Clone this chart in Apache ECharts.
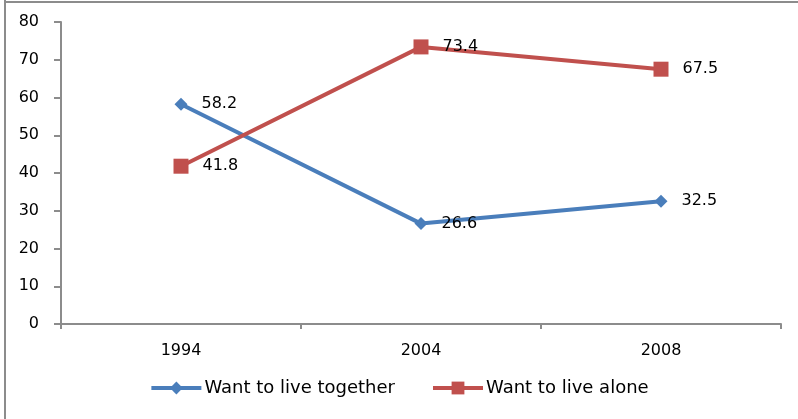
<!DOCTYPE html>
<html><head><meta charset="utf-8">
<script src="https://cdn.jsdelivr.net/npm/echarts@6/dist/echarts.min.js"></script>
<style>html,body{margin:0;padding:0;background:#fff}#c{width:798px;height:419px}</style>
</head><body><div id="c"></div>
<script>
const categories = ['1994', '2004', '2008'];
const together = [58.2, 26.6, 32.5];
const alone = [41.8, 73.4, 67.5];
const yTicks = {min: 0, max: 80, interval: 10};

const chart = echarts.init(document.getElementById('c'));
const font = '"DejaVu Sans", sans-serif';
const fs = 16;
const axisColor = '#8c8c8c';
chart.setOption({
  animation: false,
  textStyle: {fontFamily: font},
  graphic: [
    {type: 'line', shape: {x1: 5, y1: 0, x2: 5, y2: 419}, style: {stroke: '#8c8c8c', lineWidth: 2}},
    {type: 'line', shape: {x1: 4, y1: 2, x2: 798, y2: 2}, style: {stroke: '#8c8c8c', lineWidth: 2}}
  ],
  grid: {left: 61, right: 17, top: 22, bottom: 95, containLabel: false},
  legend: {
    bottom: 17, left: 'center', itemGap: 36, itemWidth: 50, itemHeight: 16,
    lineStyle: {width: 4},
    textStyle: {fontFamily: font, fontSize: 18, color: '#000', padding: [0, 0, 0, -2]},
    data: ['Want to live together', 'Want to live alone']
  },
  xAxis: {
    type: 'category', data: categories, boundaryGap: true,
    axisLine: {lineStyle: {color: axisColor, width: 2}},
    axisTick: {show: true, alignWithLabel: false, length: 5, lineStyle: {color: axisColor, width: 2}},
    axisLabel: {fontFamily: font, fontSize: fs, color: '#000', margin: 19}
  },
  yAxis: {
    type: 'value', min: yTicks.min, max: yTicks.max, interval: yTicks.interval,
    splitLine: {show: false},
    axisLine: {show: true, lineStyle: {color: axisColor, width: 2}},
    axisTick: {show: true, length: 7, lineStyle: {color: axisColor, width: 2}},
    axisLabel: {fontFamily: font, fontSize: fs, color: '#000', margin: 22}
  },
  series: [
    {
      name: 'Want to live together', type: 'line', data: together,
      symbol: 'diamond', symbolSize: 13,
      lineStyle: {color: '#4a7ebb', width: 4},
      itemStyle: {color: '#4a7ebb'},
      label: {show: true, position: 'right', distance: 14, fontFamily: font, fontSize: fs, color: '#000'}
    },
    {
      name: 'Want to live alone', type: 'line', data: alone,
      symbol: 'rect', symbolSize: 15,
      lineStyle: {color: '#c0504d', width: 4},
      itemStyle: {color: '#c0504d'},
      label: {show: true, position: 'right', distance: 14, fontFamily: font, fontSize: fs, color: '#000'}
    }
  ]
});
</script></body></html>
